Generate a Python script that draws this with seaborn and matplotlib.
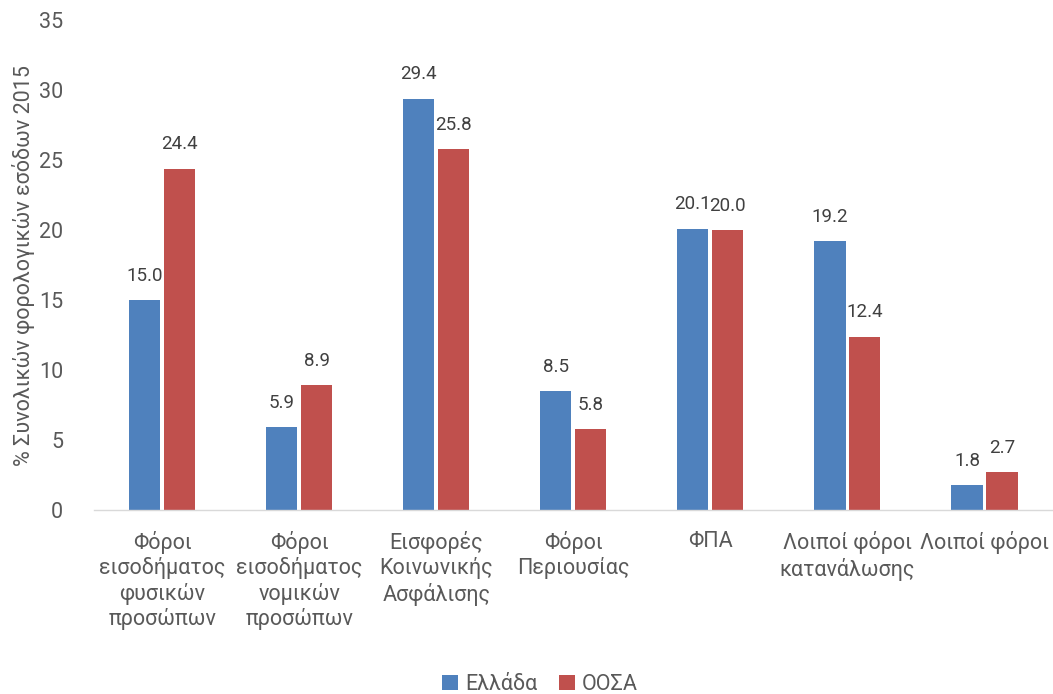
import matplotlib
matplotlib.use("Agg")
import matplotlib.pyplot as plt
import seaborn as sns
import pandas as pd

categories = ["Φόροι\nεισοδήματος\nφυσικών\nπροσώπων",
              "Φόροι\nεισοδήματος\nνομικών\nπροσώπων",
              "Εισφορές\nΚοινωνικής\nΑσφάλισης",
              "Φόροι\nΠεριουσίας",
              "ΦΠΑ",
              "Λοιποί φόροι\nκατανάλωσης",
              "Λοιποί φόροι"]
greece = [15.0, 5.9, 29.4, 8.5, 20.1, 19.2, 1.8]
oecd = [24.4, 8.9, 25.8, 5.8, 20.0, 12.4, 2.7]
series = ["Ελλάδα", "ΟΟΣΑ"]
colors = ["#4F81BD", "#C0504D"]

df = pd.DataFrame({
    "cat": categories * 2,
    "val": greece + oecd,
    "series": [series[0]] * len(categories) + [series[1]] * len(categories),
})

sns.set_theme(style="white")
plt.rcParams['font.family'] = ['Roboto', 'DejaVu Sans']
txt = "#595959"
fs = 15.5

fig = plt.figure(figsize=(10.53, 6.94), dpi=100)
ax = fig.add_axes([0.089, 0.265, 0.911, 0.706])
sns.barplot(data=df, x="cat", y="val", hue="series", palette=colors,
            saturation=1, width=0.51, gap=0.11, linewidth=0, ax=ax, legend=True)

for cont in ax.containers:
    ax.bar_label(cont, fmt="%.1f", padding=11, fontsize=13.5, color="#404040")

ax.set_ylim(0, 35)
ax.set_yticks(range(0, 36, 5))
ax.set_xlim(-0.5, len(categories) - 0.5)
ax.tick_params(axis="both", labelsize=fs, labelcolor=txt, length=0)
ax.tick_params(axis="x", pad=15)
ax.tick_params(axis="y", pad=22)
ax.set_xlabel("")
ax.set_ylabel("% Συνολικών φορολογικών εσόδων 2015", fontsize=fs, color=txt, labelpad=3)
for s in ["top", "right", "left"]:
    ax.spines[s].set_visible(False)
ax.spines["bottom"].set_color("#D9D9D9")
ax.spines["bottom"].set_linewidth(1)

ax.legend(loc="lower center", bbox_to_anchor=(0.465, -0.395), ncol=2, frameon=False,
          fontsize=fs, handlelength=0.75, handleheight=0.75, handletextpad=0.3,
          columnspacing=1.0, labelcolor=txt, borderaxespad=0)

fig.savefig("out.png", dpi=100)
